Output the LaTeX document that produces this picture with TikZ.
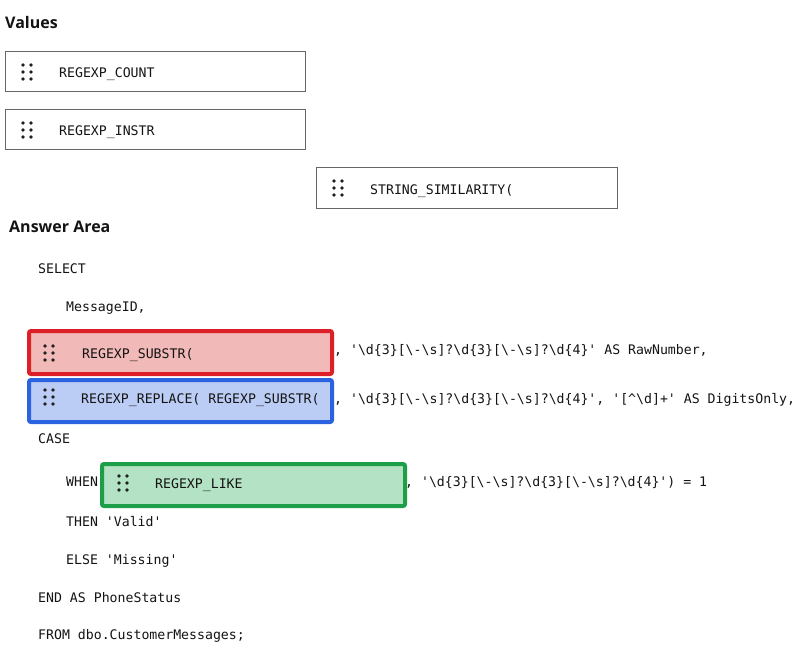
\documentclass[tikz,border=0pt]{standalone}
\usepackage{fontspec}
\setmainfont{Open Sans}
\setmonofont{DejaVu Sans Mono}
\newcommand\rxpat{'\textbackslash d\{3\}[\textbackslash -\textbackslash s]?\textbackslash d\{3\}[\textbackslash -\textbackslash s]?\textbackslash d\{4\}'}
\definecolor{redb}{HTML}{DD2027}
\definecolor{redf}{HTML}{F2B9B9}
\definecolor{blueb}{HTML}{2A62E0}
\definecolor{bluef}{HTML}{BCCDF5}
\definecolor{greenb}{HTML}{1D9E48}
\definecolor{greenf}{HTML}{B4E2C4}
\tikzset{
  valbox/.style={draw=black!60, line width=1pt, fill=white, minimum width=300pt, minimum height=40pt, anchor=north west, inner sep=0pt},
  ansbox/.style={line width=4pt, rounded corners=2pt, minimum width=303pt, anchor=north west, inner sep=0pt},
  code/.style={font=\ttfamily\fontsize{13.2}{15}\selectfont, anchor=base west, inner sep=0pt, text=black!92},
  title/.style={font=\bfseries\fontsize{16}{18}\selectfont, anchor=base west, inner sep=0pt, text=black!92},
  grip/.pic={\foreach \dx in {-4,4} \foreach \dy in {-7,0,7} \fill[black!88] (\dx,\dy) circle[radius=1.9];}
}
\begin{document}
\begin{tikzpicture}[x=1pt,y=-1pt]
\useasboundingbox (0,0) rectangle (800,657);
\fill[white] (0,0) rectangle (800,657);
% Values
\node[title] (values) at (5,28) {Values};
\node[valbox] (v1) at (5,51) {};
\pic at (27,72) {grip};
\node[code] (v1t) at (59,77) {REGEXP\_COUNT};
\node[valbox] (v2) at (5,109) {};
\pic at (27,130) {grip};
\node[code] (v2t) at (59,135) {REGEXP\_INSTR};
\node[valbox, minimum width=301pt, minimum height=41pt] (v3) at (316,167) {};
\pic at (338,188) {grip};
\node[code] (v3t) at (370,194) {STRING\_SIMILARITY(};
% Answer area
\node[title] (answer) at (9,232) {Answer Area};
\node[code] (l1) at (38,273) {SELECT};
\node[code] (l2) at (66,311) {MessageID,};
\node[ansbox, draw=redb, fill=redf, minimum height=43pt] (rbox) at (27,329) {};
\pic at (49,353) {grip};
\node[code] (rt) at (82,358) {REGEXP\_SUBSTR(};
\node[code] (l3) at (334,354) {, \rxpat{} AS RawNumber,};
\node[ansbox, draw=blueb, fill=bluef, minimum height=42pt] (bbox) at (27,378) {};
\pic at (49,397) {grip};
\node[code] (bt) at (81,403) {REGEXP\_REPLACE( REGEXP\_SUBSTR(};
\node[code] (l4) at (334,403) {, \rxpat, '[\textasciicircum\textbackslash d]+' AS DigitsOnly,};
\node[code] (l5) at (38,443) {CASE};
\node[code] (l6) at (66,486) {WHEN};
\node[ansbox, draw=greenb, fill=greenf, minimum height=42pt] (gbox) at (100,462) {};
\pic at (123,483) {grip};
\node[code] (gt) at (155,488) {REGEXP\_LIKE};
\node[code] (l7) at (405,486) {, \rxpat) = 1};
\node[code] (l8) at (66,526) {THEN 'Valid'};
\node[code] (l9) at (66,564) {ELSE 'Missing'};
\node[code] (l10) at (38,602) {END AS PhoneStatus};
\node[code] (l11) at (38,639) {FROM dbo.CustomerMessages;};
\end{tikzpicture}
\end{document}
